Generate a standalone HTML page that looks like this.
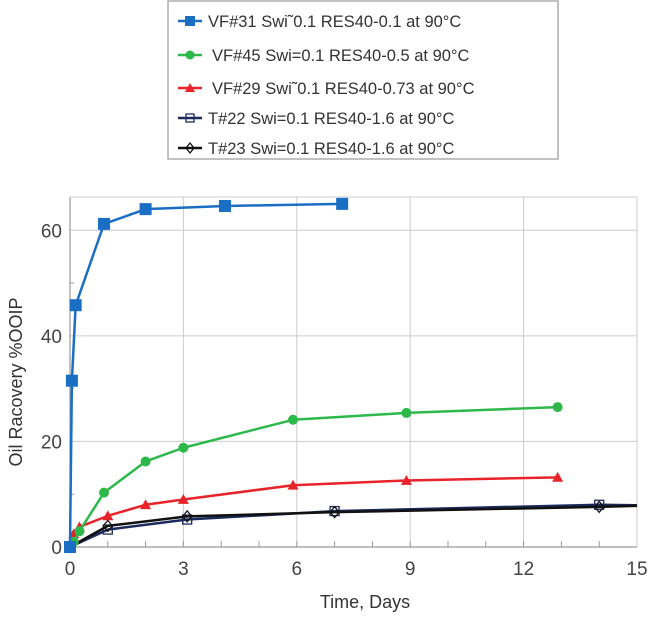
<!DOCTYPE html>
<html><head><meta charset="utf-8"><style>
body{margin:0;background:#fff;width:650px;height:615px;overflow:hidden;font-family:"Liberation Sans",sans-serif}
</style></head><body>
<svg id="chart" width="650" height="615" xmlns="http://www.w3.org/2000/svg" font-family="Liberation Sans, sans-serif"></svg>
<script>
const xTicks=[0,3,6,9,12,15];
const yTicks=[0,20,40,60];
const legendLabels=["VF#31 Swi\u02dc0.1 RES40-0.1 at 90\u00b0C","VF#45 Swi=0.1 RES40-0.5 at 90\u00b0C","VF#29 Swi\u02dc0.1 RES40-0.73 at 90\u00b0C","T#22 Swi=0.1 RES40-1.6 at 90\u00b0C","T#23 Swi=0.1 RES40-1.6 at 90\u00b0C"];
const vf31X=[0,0.05,0.15,0.9,2,4.1,7.2];
const vf31Y=[0,31.5,45.8,61.2,64,64.6,65];
const vf45X=[0,0.1,0.25,0.9,2,3,5.9,8.9,12.9];
const vf45Y=[0,1,3,10.3,16.2,18.8,24.1,25.4,26.5];
const vf29X=[0,0.1,0.25,1,2,3,5.9,8.9,12.9];
const vf29Y=[0,2.5,3.8,5.9,8,9,11.7,12.6,13.2];
const t22X=[0,1,3.1,7,14,15];
const t22Y=[0,3.3,5.2,6.8,8,7.9];
const t23X=[0,1,3.1,7,14,15];
const t23Y=[0,4,5.8,6.6,7.6,7.8];
const t22Marks=[0,1,2,3,4];
const t23Marks=[0,1,2,3,4];

const NS="http://www.w3.org/2000/svg";
const svg=document.getElementById('chart');
const L=70,R=637,T=197,B=547,xMax=15,yMax=66.3;
const sx=v=>L+v/xMax*(R-L);
const sy=v=>B-v/yMax*(B-T);
function el(tag,attrs,parent){const e=document.createElementNS(NS,tag);for(const k in attrs)e.setAttribute(k,attrs[k]);(parent||svg).appendChild(e);return e;}

// legend
const lg=el('g',{});


const lb=el('rect',{x:168,y:1,width:390,height:158,fill:'#fff',stroke:'#999','stroke-width':1.2},lg);


const colors=['#1a6fc4','#2db84a','#e8232a','#1b2a5c','#111'];
const shapes=['sq','ci','tr','osq','dia'];
const rowsY=[21,55,88,118,148];
function marker(shape,x,y,c,parent,s){
  s=s||6;
  if(shape==='sq')return el('rect',{x:x-s,y:y-s,width:2*s,height:2*s,fill:c},parent);
  if(shape==='ci')return el('circle',{cx:x,cy:y,r:s-0.5,fill:c},parent);
  if(shape==='tr')return el('polygon',{points:`${x},${y-s} ${x+s},${y+s*0.8} ${x-s},${y+s*0.8}`,fill:c},parent);
  if(shape==='osq')return el('rect',{x:x-s+1,y:y-s+1,width:2*s-2,height:2*s-2,fill:'none',stroke:c,'stroke-width':1.3},parent);
  return el('polygon',{points:`${x},${y-s} ${x+s-1},${y} ${x},${y+s} ${x-s+1},${y}`,fill:'none',stroke:c,'stroke-width':1.3},parent);
}
legendLabels.forEach((t,i)=>{
  const g=el('g',{},lg);
  
  
  el('line',{x1:178,x2:202,y1:rowsY[i],y2:rowsY[i],stroke:colors[i],'stroke-width':2.5},g);
  marker(shapes[i],190,rowsY[i],colors[i],g,5);
  const tx=el('text',{x:i===1||i===2?212:208,y:rowsY[i]+6,'font-size':16.5,fill:'#333'},g);
  tx.textContent=t;
});

// grid
const grid=el('g',{});


xTicks.forEach(v=>{if(v>0)el('line',{x1:sx(v),x2:sx(v),y1:T,y2:B,stroke:'#ccc','stroke-width':1},grid);});
yTicks.forEach(v=>{if(v>0)el('line',{x1:L,x2:R,y1:sy(v),y2:sy(v),stroke:'#ccc','stroke-width':1},grid);});
el('line',{x1:L,x2:R,y1:T,y2:T,stroke:'#ccc'},grid);
// axes
const ax=el('g',{});


el('line',{x1:L,x2:L,y1:T,y2:B,stroke:'#999','stroke-width':1.2},ax);
el('line',{x1:L,x2:R,y1:B,y2:B,stroke:'#999','stroke-width':1.2},ax);
for(let v=1;v<15;v++)el('line',{x1:sx(v),x2:sx(v),y1:B,y2:B-6,stroke:'#999'},ax);
[10,30,50].forEach(v=>el('line',{x1:L,x2:L+4,y1:sy(v),y2:sy(v),stroke:'#999'},ax));
xTicks.forEach(v=>{const t=el('text',{x:sx(v),y:B+28,'font-size':19,'text-anchor':'middle',fill:'#444'},ax);t.textContent=v;});
yTicks.forEach(v=>{const t=el('text',{x:L-8,y:sy(v)+7,'font-size':19,'text-anchor':'end',fill:'#444'},ax);t.textContent=v;});
const xt=el('text',{x:365,y:608,'font-size':18,'text-anchor':'middle',fill:'#333'},ax);


xt.textContent='Time, Days';
const yt=el('text',{x:0,y:0,'font-size':18,'text-anchor':'middle',fill:'#333',transform:`translate(22,${(T+B)/2+10}) rotate(-90)`},ax);


yt.textContent='Oil Racovery %OOIP';

function series(name,xs,ys,c,shape,marks,w){
  const g=el('g',{});
  
  
  el('polyline',{points:xs.map((x,i)=>sx(x)+','+sy(ys[i])).join(' '),fill:'none',stroke:c,'stroke-width':w||2.5,'stroke-linejoin':'round'},g);
  (marks||xs.map((_,i)=>i)).forEach(i=>{const m=marker(shape,sx(xs[i]),sy(ys[i]),c,g,shape==='sq'?6:5.5);});
}
series('series-t22',t22X,t22Y,colors[3],'osq',t22Marks,2.5);
series('series-t23',t23X,t23Y,colors[4],'dia',t23Marks,2.5);
series('series-vf29',vf29X,vf29Y,colors[2],'tr');
series('series-vf45',vf45X,vf45Y,colors[1],'ci');
series('series-vf31',vf31X,vf31Y,colors[0],'sq');
</script>
</body></html>
